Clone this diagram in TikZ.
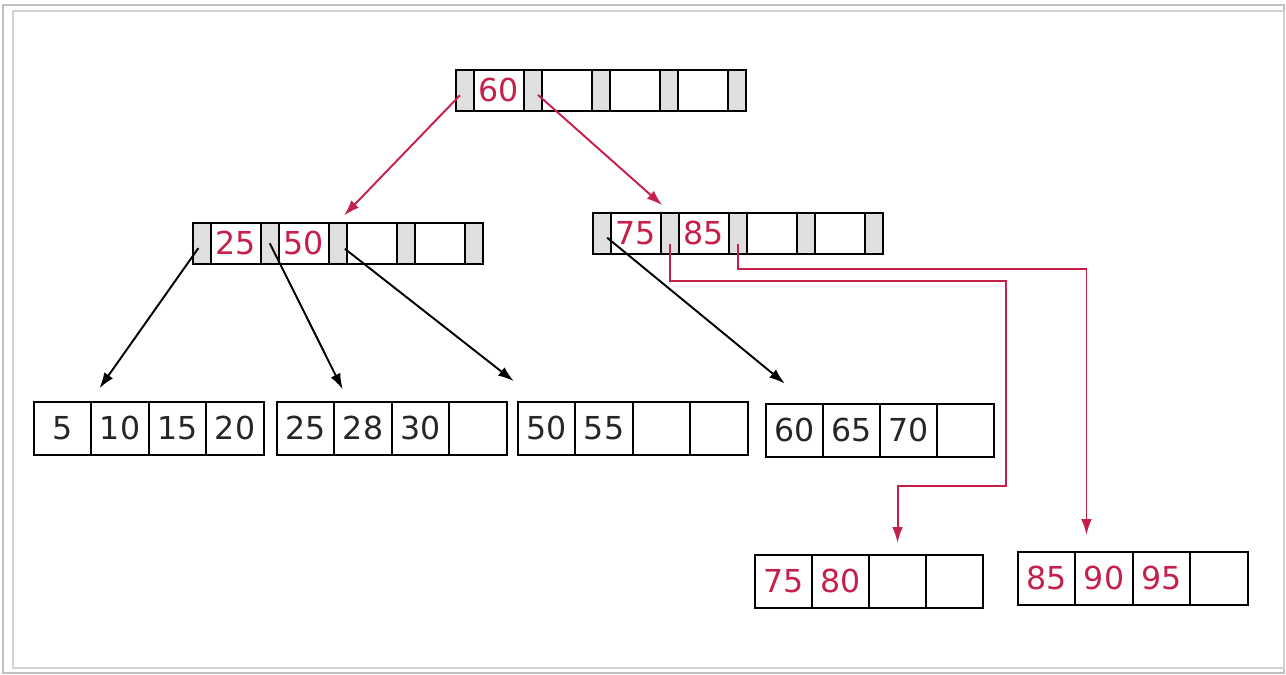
\documentclass[tikz,border=0pt]{standalone}
\usepackage{fontspec}
\setmainfont{DejaVu Sans}
\usetikzlibrary{positioning,arrows.meta}
\definecolor{keyred}{RGB}{198,32,74}

\begin{document}
\begin{tikzpicture}[x=0.02cm, y=-0.02cm, line width=0.9pt,
	font=\fontsize{18}{20}\selectfont,
	ptr/.style={draw,fill=gray!25,anchor=north west,inner sep=0,
		minimum width=0.36cm,minimum height=0.82cm},
	key/.style={draw,fill=white,anchor=north west,inner sep=0,
		minimum width=1cm,minimum height=0.82cm,text=keyred},
	cell/.style={draw,anchor=north west,inner sep=0,text=black!85,
		minimum width=1.15cm,minimum height=1.06cm},
	link/.style={-{Latex[length=9pt,width=6pt]},line width=1.1pt},
	redlink/.style={link,draw=keyred}]
	\useasboundingbox (0,0) rectangle (1286,675);
	\draw[gray!50,line width=0.6pt] (3,5) rectangle (1284,673);
	\draw[gray!35,line width=0.6pt] (13,11) rectangle (1284,668);
	% root
	\foreach \k [count=\i from 0] in {60,{},{},{}} {
		\node[ptr] (r\i) at ({455+68*\i},69) {};
		\node[key] (rk\i) at ({473+68*\i},69) {\k};
	}
	\node[ptr] (r4) at (727,69) {};
	% second level
	\foreach \k [count=\i from 0] in {25,50,{},{}} {
		\node[ptr] (b\i) at ({192+68*\i},222) {};
		\node[key] (bk\i) at ({210+68*\i},222) {\k};
	}
	\node[ptr] (b4) at (464,222) {};
	\foreach \k [count=\i from 0] in {75,85,{},{}} {
		\node[ptr] (c\i) at ({592+68*\i},212) {};
		\node[key] (ck\i) at ({610+68*\i},212) {\k};
	}
	\node[ptr] (c4) at (864,212) {};
	% leaves
	\foreach \k [count=\i] in {5,10,15,20}
		\node[cell] (la\i) at ({33+57.5*(\i-1)},401) {\k};
	\foreach \k [count=\i] in {25,28,30,{}}
		\node[cell] (lb\i) at ({276+57.5*(\i-1)},401) {\k};
	\foreach \k [count=\i] in {50,55,{},{}}
		\node[cell] (lc\i) at ({517+57.5*(\i-1)},401) {\k};
	\foreach \k [count=\i] in {60,65,70,{}}
		\node[cell] (ld\i) at ({765+57*(\i-1)},403) {\k};
	\foreach \k [count=\i] in {75,80,{},{}}
		\node[cell,text=keyred] (le\i) at ({754+57*(\i-1)},554) {\k};
	\foreach \k [count=\i] in {85,90,95,{}}
		\node[cell,text=keyred] (lf\i) at ({1017+57.5*(\i-1)},551) {\k};
	% pointers
	\draw[redlink,shorten <=0.14cm,shorten >=0.18cm] (r0.center) -- (b2.north);
	\draw[redlink,shorten <=0.14cm,shorten >=0.2cm] (r1.center) -- (c1.north);
	\draw[link,shorten <=0.12cm,shorten >=0.31cm] (b0.center) -- (la2.north west);
	\draw[link,shorten <=0.0cm,shorten >=0.26cm] (b1.center) -- ([xshift=0.3cm]lb2.north west);
	\draw[link,shorten <=0.18cm,shorten >=0.64cm] (b2.center) -- ([xshift=0.44cm]lc1.north west);
	\draw[link,shorten <=0.14cm,shorten >=0.61cm] (c0.center) -- ([xshift=0.87cm]ld1.north west);
	\draw[redlink,shorten <=0.21cm,shorten >=0.22cm] (c1.center) -- ++(0,48) -- ++(336,0)
		-- ++(0,205) -| (le3.north);
	\draw[redlink,shorten <=0.21cm,shorten >=0.32cm] (c2.center) -- ++(0,36)
		-| ([xshift=0.24cm]lf2.north west);
\end{tikzpicture}
\end{document}
